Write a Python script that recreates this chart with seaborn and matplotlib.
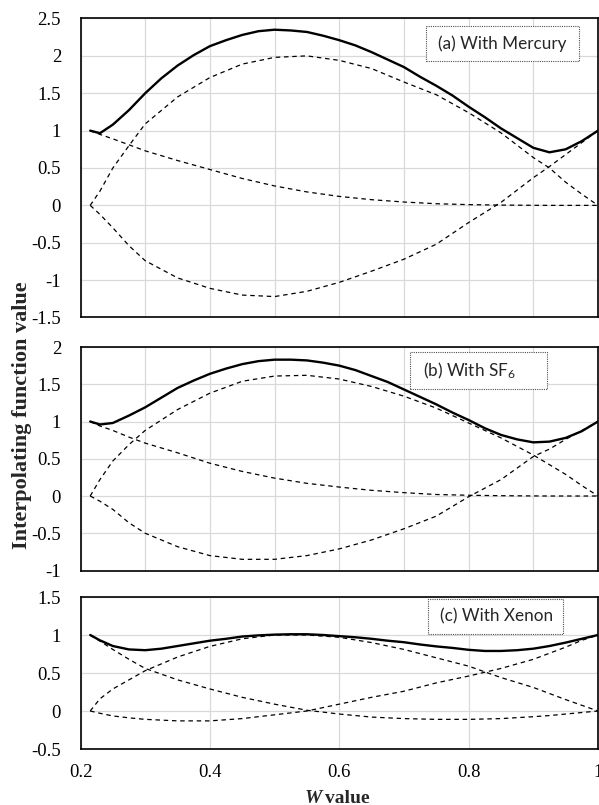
import numpy as np
import pandas as pd
import matplotlib
matplotlib.use("Agg")
import matplotlib.pyplot as plt
import seaborn as sns
from matplotlib.patches import Rectangle
from matplotlib.ticker import FuncFormatter

# ---------------- data ----------------
# W values at which the thick (total) curves were read
W_total = [0.215, 0.23, 0.25, 0.275, 0.30, 0.325, 0.35, 0.375, 0.40, 0.425,
           0.45, 0.475, 0.50, 0.525, 0.55, 0.575, 0.60, 0.625, 0.65, 0.675,
           0.70, 0.725, 0.75, 0.775, 0.80, 0.825, 0.85, 0.875, 0.90, 0.925,
           0.95, 0.975, 1.00]
# W values at which the dashed (component) curves were read
W_comp = [0.215, 0.23, 0.25, 0.275, 0.30, 0.35, 0.40, 0.45, 0.50, 0.55,
          0.60, 0.65, 0.70, 0.75, 0.80, 0.85, 0.90, 0.925, 0.95, 0.975, 1.00]

# (a) With Mercury
hg_total = [1.00, 0.965, 1.08, 1.275, 1.50, 1.70, 1.87, 2.01, 2.13, 2.21,
            2.28, 2.33, 2.35, 2.34, 2.32, 2.27, 2.21, 2.14, 2.05, 1.95,
            1.85, 1.72, 1.60, 1.47, 1.32, 1.18, 1.03, 0.90, 0.77, 0.71,
            0.75, 0.86, 1.00]
hg_mid = [0.00, 0.19, 0.50, 0.80, 1.09, 1.45, 1.71, 1.89, 1.98, 2.00,
          1.94, 1.83, 1.65, 1.48, 1.24, 0.97, 0.64, 0.50, 0.31, 0.15, 0.00]
hg_low = [1.00, 0.95, 0.89, 0.81, 0.73, 0.60, 0.48, 0.36, 0.26, 0.18,
          0.12, 0.076, 0.045, 0.022, 0.01, 0.004, 0.001, 0.0, 0.0, 0.0, 0.0]
hg_high = [0.00, -0.12, -0.30, -0.54, -0.74, -0.97, -1.11, -1.20, -1.22, -1.15,
           -1.03, -0.88, -0.72, -0.52, -0.23, 0.04, 0.37, 0.52, 0.68, 0.84, 1.00]

# (b) With SF6
sf_total = [1.00, 0.96, 0.98, 1.08, 1.19, 1.32, 1.45, 1.55, 1.64, 1.71,
            1.77, 1.81, 1.83, 1.83, 1.82, 1.79, 1.75, 1.69, 1.61, 1.53,
            1.43, 1.33, 1.23, 1.12, 1.02, 0.91, 0.82, 0.76, 0.72, 0.73,
            0.78, 0.87, 1.00]
sf_mid = [0.00, 0.22, 0.47, 0.69, 0.88, 1.16, 1.38, 1.54, 1.61, 1.62,
          1.57, 1.47, 1.34, 1.18, 0.98, 0.78, 0.55, 0.42, 0.29, 0.14, 0.00]
sf_low = [1.00, 0.94, 0.88, 0.79, 0.71, 0.58, 0.44, 0.33, 0.24, 0.17,
          0.12, 0.076, 0.045, 0.02, 0.01, 0.004, 0.001, 0.0, 0.0, 0.0, 0.0]
sf_high = [0.00, -0.07, -0.18, -0.36, -0.50, -0.68, -0.80, -0.85, -0.85, -0.80,
           -0.71, -0.59, -0.44, -0.27, -0.01, 0.22, 0.53, 0.63, 0.76, 0.88, 1.00]

# (c) With Xenon
xe_total = [1.00, 0.93, 0.855, 0.81, 0.80, 0.82, 0.855, 0.89, 0.925, 0.95,
            0.98, 0.995, 1.005, 1.01, 1.01, 1.00, 0.985, 0.97, 0.95, 0.925,
            0.905, 0.875, 0.85, 0.83, 0.805, 0.79, 0.79, 0.80, 0.82, 0.855,
            0.90, 0.95, 1.00]
xe_mid = [0.00, 0.16, 0.29, 0.41, 0.53, 0.71, 0.85, 0.95, 1.00, 1.00,
          0.97, 0.90, 0.81, 0.70, 0.59, 0.44, 0.31, 0.23, 0.15, 0.075, 0.00]
xe_low = [1.00, 0.92, 0.81, 0.68, 0.56, 0.41, 0.29, 0.18, 0.09, 0.01,
          -0.04, -0.08, -0.10, -0.11, -0.11, -0.10, -0.075, -0.06, -0.04, -0.02, 0.00]
xe_high = [0.00, -0.03, -0.065, -0.09, -0.11, -0.13, -0.13, -0.10, -0.05, 0.00,
           0.09, 0.18, 0.26, 0.37, 0.46, 0.56, 0.68, 0.76, 0.84, 0.93, 1.00]

panel_labels = ["(a) With Mercury", "(b) With SF$_6$", "(c) With Xenon"]
x_ticks_c = [0.2, 0.4, 0.6, 0.8, 1.0]
y_ranges = [(-1.5, 2.5), (-1.0, 2.0), (-0.5, 1.5)]

# ---------------- style ----------------
sns.set_theme(style="white")
plt.rcParams["font.family"] = ["Liberation Serif", "DejaVu Serif"]
plt.rcParams["axes.unicode_minus"] = False
plt.rcParams["mathtext.fontset"] = "custom"
plt.rcParams["mathtext.rm"] = "Lato"
plt.rcParams["mathtext.it"] = "Lato:italic"
plt.rcParams["mathtext.bf"] = "Lato:bold"

FW, FH = 599, 805
fig = plt.figure(figsize=(FW / 100, FH / 100), dpi=100)
fig.patch.set_facecolor("white")

left_px, right_px = 80.5, 598.0


def add_ax(top, bottom):
    return fig.add_axes([left_px / FW, 1 - bottom / FH,
                         (right_px - left_px) / FW, (bottom - top) / FH])


axes = [add_ax(18.5, 317.5), add_ax(347.0, 570.5), add_ax(597.0, 749.0)]

panels = [
    (hg_total, hg_mid, hg_low, hg_high),
    (sf_total, sf_mid, sf_low, sf_high),
    (xe_total, xe_mid, xe_low, xe_high),
]

fmt = FuncFormatter(lambda v, p: f"{round(v, 3):g}")

for i, (ax, series) in enumerate(zip(axes, panels)):
    total, mid, low, high = series
    dfc = pd.DataFrame({"W": W_comp, "mid": mid, "low": low, "high": high})
    dft = pd.DataFrame({"W": W_total, "total": total})
    for col in ["mid", "low", "high"]:
        sns.lineplot(data=dfc, x="W", y=col, ax=ax, color="black", lw=0.9,
                     linestyle=(0, (3.6, 3.0)), sort=False, estimator=None,
                     errorbar=None, zorder=3)
    sns.lineplot(data=dft, x="W", y="total", ax=ax, color="black", lw=1.7,
                 sort=False, estimator=None, errorbar=None, zorder=4,
                 solid_capstyle="round", solid_joinstyle="round")

    ylo, yhi = y_ranges[i]
    ax.set_xlim(0.2, 1.0)
    ax.set_ylim(ylo, yhi)
    ax.set_yticks(np.arange(ylo, yhi + 0.01, 0.5))
    ax.yaxis.set_major_formatter(fmt)
    if i < 2:
        ax.set_xticks(np.arange(0.2, 1.001, 0.1))
        ax.tick_params(axis="x", labelbottom=False)
    else:
        ax.set_xticks(x_ticks_c)
        ax.xaxis.set_major_formatter(fmt)
    ax.grid(True, color="#d9d9d9", lw=0.9)
    ax.set_axisbelow(True)
    ax.tick_params(length=0, labelsize=13.5, pad=11, colors="black")
    ax.tick_params(axis="y", pad=14)
    for s in ax.spines.values():
        s.set_color("black")
        s.set_linewidth(1.2)
        s.set_visible(True)
    ax.set_xlabel("")
    ax.set_ylabel("")
    ax.set_facecolor("white")

# annotation boxes (pixel positions)
boxes = [(426, 26, 579, 61, 438), (410, 352, 547, 389, 423), (428, 599, 563, 634, 440)]
for (x0, y0, x1, y1, tx), lab in zip(boxes, panel_labels):
    rect = Rectangle((x0 / FW, 1 - y1 / FH), (x1 - x0) / FW, (y1 - y0) / FH,
                     transform=fig.transFigure, facecolor="white",
                     edgecolor="#505050", lw=0.8, linestyle=(0, (1, 1)), zorder=5)
    fig.add_artist(rect)
    fig.text(tx / FW, 1 - ((y0 + y1) / 2) / FH, lab, ha="left", va="center",
             fontsize=12.3, family=["Lato", "DejaVu Sans"], zorder=6)

# axis labels
fig.text(22 / FW, 1 - 415 / FH, "Interpolating function value", rotation=90,
         ha="center", va="center", fontsize=16, fontweight="bold")
fig.text(322 / FW, 1 - 798 / FH, "W", ha="right", va="center", fontsize=14,
         fontweight="bold", fontstyle="italic")
fig.text(325 / FW, 1 - 798 / FH, "value", ha="left", va="center", fontsize=14,
         fontweight="bold")

fig.savefig("out.png", dpi=100, facecolor="white")
